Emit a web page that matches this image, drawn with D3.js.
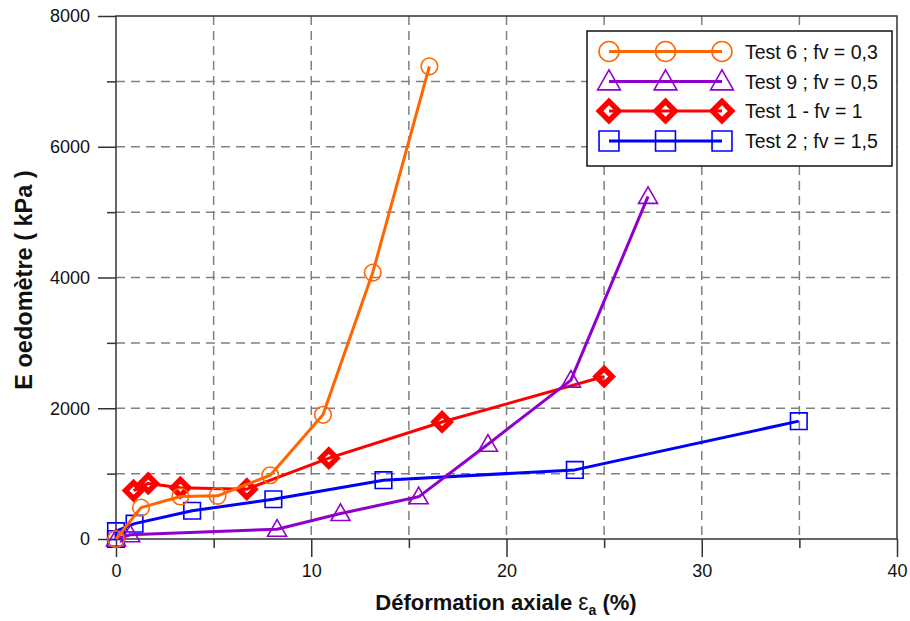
<!DOCTYPE html>
<html><head><meta charset="utf-8">
<script src="https://cdn.jsdelivr.net/npm/d3@7"></script>
<style>body{margin:0;background:#fff}svg{display:block;font-family:"Liberation Sans",Arial,sans-serif}</style>
</head><body><svg id="c" width="910" height="621"></svg>
<script>
// ---- data ----
const test6X = [0, 1.28, 3.3, 5.2, 7.9, 10.6, 13.15, 16.05];
const test6Y = [0, 480, 650, 660, 975, 1900, 4075, 7230];
const test9X = [0, 0.73, 8.25, 11.5, 15.5, 19.05, 23.3, 27.25];
const test9Y = [0, 65, 150, 390, 645, 1450, 2430, 5240];
const test1X = [0.9, 1.65, 3.3, 6.7, 10.9, 16.7, 25.0];
const test1Y = [740, 850, 785, 762, 1237, 1790, 2485];
const test2X = [0, 0, 0.95, 3.9, 8.06, 13.7, 23.5, 34.97];
const test2Y = [0, 120, 235, 432, 608, 900, 1057, 1803];
const seriesNames = ["Test 6 ; fv = 0,3", "Test 9 ; fv = 0,5", "Test 1 - fv = 1", "Test 2 ; fv = 1,5"];
const xMajorTicks = [0, 10, 20, 30, 40];
const xMinorTicks = [5, 15, 25, 35];
const yMajorTicks = [0, 2000, 4000, 6000, 8000];
const yMinorTicks = [1000, 3000, 5000, 7000];

const series = [
  {name: seriesNames[0], xs: test6X, ys: test6Y, color: "#ff6600", marker: "circle"},
  {name: seriesNames[1], xs: test9X, ys: test9Y, color: "#9000cc", marker: "triangle"},
  {name: seriesNames[2], xs: test1X, ys: test1Y, color: "#ff0000", marker: "diamond"},
  {name: seriesNames[3], xs: test2X, ys: test2Y, color: "#0000ff", marker: "square"}
];

const svg = d3.select("#c");
const x = d3.scaleLinear().domain([0, 40]).range([116, 897]);
const y = d3.scaleLinear().domain([0, 8000]).range([539, 16]);

// grid
const grid = svg.append("g").attr("stroke", "#808080").attr("stroke-width", 1.5).attr("stroke-dasharray", "9,6");
d3.range(5, 40, 5).forEach(v => grid.append("line").attr("x1", x(v)).attr("x2", x(v)).attr("y1", y(8000)).attr("y2", y(0)));
d3.range(1000, 8000, 1000).forEach(v => grid.append("line").attr("y1", y(v)).attr("y2", y(v)).attr("x1", x(0)).attr("x2", x(40)));

// axes with outward ticks
const axisCol = "#333";
const xAx = svg.append("g").attr("transform", `translate(0,${y(0)})`)
  .call(d3.axisBottom(x).tickValues(xMajorTicks).tickSize(18).tickPadding(6).tickFormat(d3.format("d")));
const xAxMin = svg.append("g").attr("transform", `translate(0,${y(0)})`)
  .call(d3.axisBottom(x).tickValues(xMinorTicks).tickSize(9).tickFormat(""));
const yAx = svg.append("g").attr("transform", `translate(${x(0)},0)`)
  .call(d3.axisLeft(y).tickValues(yMajorTicks).tickSize(18).tickPadding(8).tickFormat(d3.format("d")));
const yAxMin = svg.append("g").attr("transform", `translate(${x(0)},0)`)
  .call(d3.axisLeft(y).tickValues(yMinorTicks).tickSize(9).tickFormat(""));
[xAx, xAxMin, yAx, yAxMin].forEach(g => {
  g.select(".domain").remove();
  g.selectAll("line").attr("stroke", axisCol).attr("stroke-width", 1.5);
  g.selectAll("text").attr("font-size", 18).attr("fill", "#111").attr("font-family", "Liberation Sans, Arial, sans-serif");
});
xAx.selectAll("text").attr("dy", "0.75em");

// frame
svg.append("rect").attr("x", x(0)).attr("y", y(8000)).attr("width", x(40) - x(0)).attr("height", y(0) - y(8000))
  .attr("fill", "none").attr("stroke", axisCol).attr("stroke-width", 1.5);

// markers
function markerPath(type, s) {
  if (type === "square") return `M${-s},${-s}H${s}V${s}H${-s}Z`;
  if (type === "triangle") { const h = s * 1.75; return `M0,${-h*0.58}L${s},${h*0.42}L${-s},${h*0.42}Z`; }
  if (type === "diamond") return `M0,${-s}L${s},0L0,${s}L${-s},0Z`;
  return null;
}
function drawMarker(g, type, cx, cy, color, big) {
  const k = big ? 1.2 : 1;
  if (type === "circle") {
    g.append("circle").attr("cx", cx).attr("cy", cy).attr("r", 8.3 * k).attr("fill", "none").attr("stroke", color).attr("stroke-width", 1.6);
  } else {
    const size = {square: 8.3, triangle: 9.5, diamond: 8}[type] * k;
    g.append("path").attr("d", markerPath(type, size)).attr("transform", `translate(${cx},${cy})`)
      .attr("fill", "none").attr("stroke", color)
      .attr("stroke-width", type === "diamond" ? 5.5 : 1.6).attr("stroke-linejoin", "miter");
  }
}

const line = d3.line().x(d => x(d[0])).y(d => y(d[1]));
// draw order: blue, red, purple, orange (orange on top)
[3, 2, 1, 0].forEach(i => {
  const s = series[i];
  const pts = s.xs.map((v, j) => [v, s.ys[j]]);
  const g = svg.append("g");
  g.append("path").attr("d", line(pts)).attr("fill", "none").attr("stroke", s.color).attr("stroke-width", 3).attr("stroke-linejoin", "round");
  pts.forEach(p => drawMarker(g, s.marker, x(p[0]), y(p[1]), s.color, false));
});

// legend
const lg = svg.append("g");
lg.append("rect").attr("x", 587).attr("y", 31).attr("width", 305).attr("height", 135)
  .attr("fill", "#fff").attr("stroke", "#111").attr("stroke-width", 1.5);
const rowY = [51.5, 81.5, 111, 141];
series.forEach((s, i) => {
  const yy = rowY[i];
  lg.append("line").attr("x1", 609).attr("x2", 722).attr("y1", yy).attr("y2", yy).attr("stroke", s.color).attr("stroke-width", 3);
  [609, 665.5, 722].forEach(xx => drawMarker(lg, s.marker, xx, yy, s.color, true));
  lg.append("text").attr("x", 745).attr("y", yy).attr("dy", "0.36em").attr("font-size", 19.5).attr("fill", "#111").text(s.name);
});

// axis titles
const xt = svg.append("text").attr("x", 506).attr("y", 610).attr("text-anchor", "middle")
  .attr("font-size", 22).attr("font-weight", "bold").attr("fill", "#111");
xt.append("tspan").text("Déformation axiale ");
xt.append("tspan").text("ε").attr("font-weight", "normal").attr("font-size", 23);
xt.append("tspan").text("a").attr("font-size", 14).attr("dy", 5);
xt.append("tspan").text(" (%)").attr("dy", -5);

svg.append("text").attr("transform", "translate(32,280) rotate(-90)").attr("text-anchor", "middle")
  .attr("font-size", 23.5).attr("font-weight", "bold").attr("fill", "#111").text("E oedomètre ( kPa )");
</script></body></html>
